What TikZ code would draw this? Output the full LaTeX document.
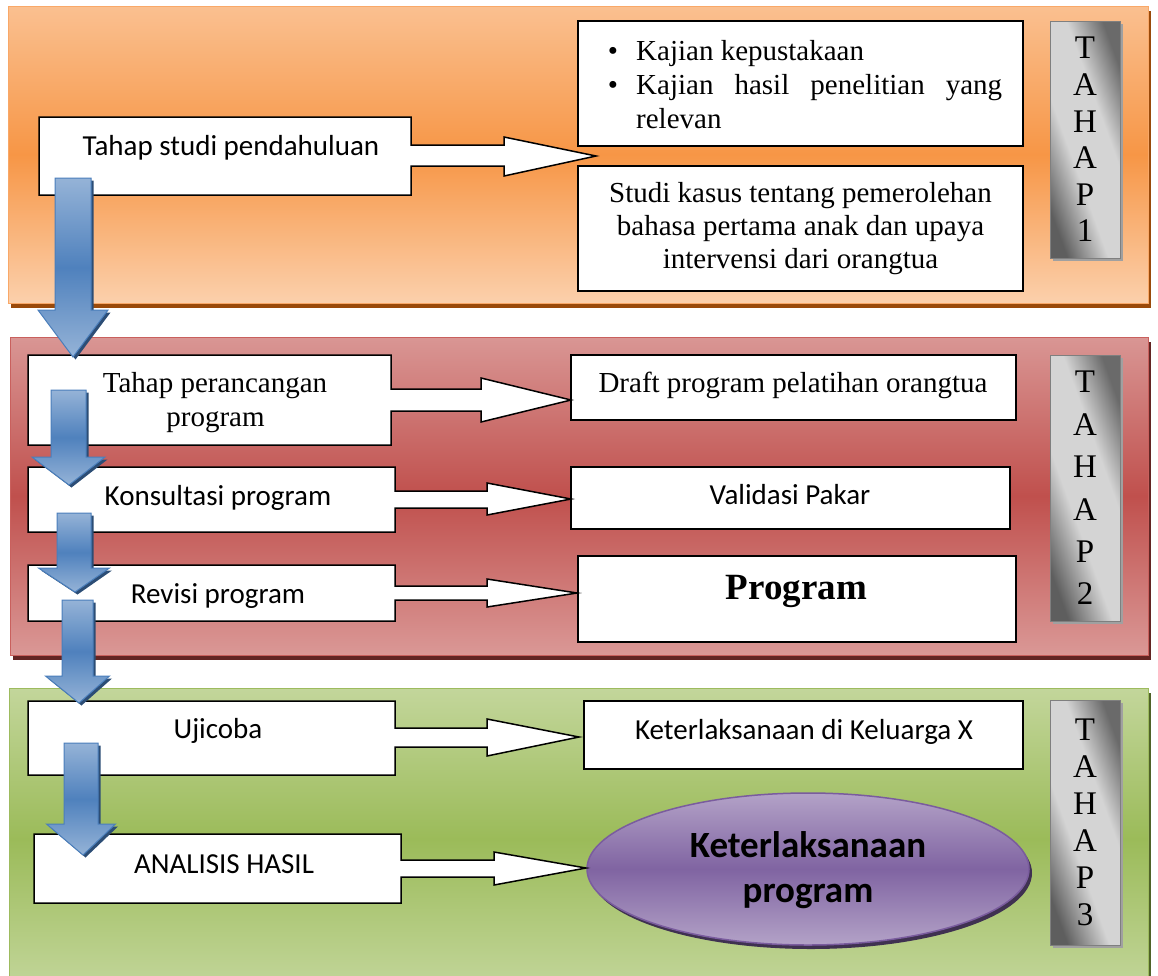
\documentclass[tikz,border=0pt]{standalone}
\usepackage{fontspec}
\setmainfont{Liberation Serif}
\newfontfamily\calibri{Carlito}
\usetikzlibrary{calc,shapes.geometric,shadows}

\definecolor{orTop}{HTML}{FAC090}
\definecolor{orMid}{HTML}{F79646}
\definecolor{orBot}{HTML}{FBD0AC}
\definecolor{orShadow}{HTML}{9A4A0A}
\definecolor{orEdge}{HTML}{F9A868}
\definecolor{rdTop}{HTML}{D99694}
\definecolor{rdMid}{HTML}{C0504D}
\definecolor{rdBot}{HTML}{DA9896}
\definecolor{rdShadow}{HTML}{632523}
\definecolor{rdEdge}{HTML}{C9605D}
\definecolor{grTop}{HTML}{C3D69B}
\definecolor{grMid}{HTML}{9BBB59}
\definecolor{grBot}{HTML}{C3D69B}
\definecolor{grShadow}{HTML}{4F6228}
\definecolor{grEdge}{HTML}{9DBB5E}
\definecolor{blTop}{HTML}{95B3D7}
\definecolor{blMid}{HTML}{4F81BD}
\definecolor{blBot}{HTML}{95B3D7}
\definecolor{blEdge}{HTML}{4A7EBB}
\definecolor{blShadow}{HTML}{2C4D75}
\definecolor{puTop}{HTML}{B3A2C7}
\definecolor{puMid}{HTML}{8064A2}
\definecolor{puEdge}{HTML}{7A5C9E}
\definecolor{puShadow}{HTML}{3F3151}
\definecolor{gyDark}{HTML}{5E5E5E}
\definecolor{gyLight}{HTML}{D4D4D4}
\definecolor{gyDarkR}{HTML}{6A6A6A}
\definecolor{gyEdge}{HTML}{7F7F7F}
\definecolor{gyShadow}{HTML}{A0A0A0}

\pgfdeclarehorizontalshading{tahapsh}{100bp}{color(0bp)=(gyDark); color(25bp)=(gyDark); color(42bp)=(gyLight); color(60bp)=(gyLight); color(75bp)=(gyDarkR); color(100bp)=(gyDarkR)}

\newcommand{\fserif}{\fontsize{29}{34}\selectfont}
\newcommand{\fcal}{\calibri\fontsize{29}{34}\selectfont}

\newcommand{\blockarrow}[5]{%
  \path[bluearrow] let \p1=(#1), \p2=(#2) in
    (\x1-#3pt,\y1) -- (\x1+#3pt,\y1) -- (\x1+#3pt,\y2+#5pt) -- (\x1+#4pt,\y2+#5pt)
    -- (\x2,\y2) -- (\x1-#4pt,\y2+#5pt) -- (\x1-#3pt,\y2+#5pt) -- cycle;
}

\begin{document}
\begin{tikzpicture}[x=1pt,y=-1pt,
  rbox/.style={draw=black, fill=white, line width=1.5pt, inner sep=0pt},
  callout/.style={draw=black, fill=white, line width=1.5pt, line join=miter},
  txt/.style={inner sep=0pt, anchor=base},
  tahap/.style={draw=gyEdge, line width=1pt, shade, shading=tahapsh, shading angle=20,
    inner sep=0pt, align=center,
    drop shadow={shadow xshift=3pt, shadow yshift=-3pt, fill=gyShadow, opacity=1}},
  bluearrow/.style={draw=blEdge, line width=1pt, top color=blTop, bottom color=blBot, middle color=blMid,
    line join=miter,
    drop shadow={shadow xshift=2.5pt, shadow yshift=-2.5pt, fill=blShadow, opacity=1}}
]
\useasboundingbox (0,0) rectangle (1158,975);
\fill[white] (0,0) rectangle (1158,975);

% panels
\path[draw=orEdge, line width=1pt, top color=orTop, bottom color=orBot, middle color=orMid,
  drop shadow={shadow xshift=3pt, shadow yshift=-5pt, fill=orShadow, opacity=1}]
  (8,6) rectangle (1148,303);
\path[draw=rdEdge, line width=1pt, top color=rdTop, bottom color=rdBot, middle color=rdMid,
  drop shadow={shadow xshift=3pt, shadow yshift=-5pt, fill=rdShadow, opacity=1}]
  (10,337) rectangle (1148,655);
\path[draw=grEdge, line width=1pt, top color=grTop, bottom color=grBot, middle color=grMid,
  drop shadow={shadow xshift=3pt, shadow yshift=-5pt, fill=grShadow, opacity=1}]
  (9,688) rectangle (1148,990);

% right boxes
\node[rbox, minimum width=445pt, minimum height=125pt] (kaj) at (800.5,83.5) {};
\node[rbox, minimum width=445pt, minimum height=125pt] (stu) at (800.5,228.5) {};
\node[rbox, minimum width=445pt, minimum height=65pt] (dra) at (793.5,387.5) {};
\node[rbox, minimum width=439pt, minimum height=62pt] (val) at (790.5,498) {};
\node[rbox, minimum width=438pt, minimum height=86pt] (prg) at (797,599) {};
\node[rbox, minimum width=439pt, minimum height=68pt] (kel) at (803.5,735) {};
\node[ellipse, minimum width=442pt, minimum height=152pt, inner sep=0pt, draw=puEdge, line width=1.5pt,
  top color=puTop, bottom color=puTop, middle color=puMid,
  drop shadow={shadow xshift=3pt, shadow yshift=-4pt, fill=puShadow, opacity=1}] (ell) at (808,869) {};

% TAHAP boxes
\node[tahap, minimum width=70pt, minimum height=237pt, font=\fontsize{33}{36.6}\selectfont] (th1) at (1085,139.5) {T\\A\\H\\A\\P\\1};
\node[tahap, minimum width=70pt, minimum height=266pt, font=\fontsize{33}{42.4}\selectfont] (th2) at (1085,488) {T\\A\\H\\A\\P\\2};
\node[tahap, minimum width=70pt, minimum height=245pt, font=\fontsize{33}{37}\selectfont] (th3) at (1085,822.5) {T\\A\\H\\A\\P\\3};

% callouts (box with right block arrow)
\path[callout] (39,117) -- (411,117) -- (411,145) -- (504,145) -- (504,137) -- (596,156) -- (504,176) -- (504,166) -- (411,166) -- (411,195) -- (39,195) -- cycle;
\path[callout] (28,355) -- (391,355) -- (391,389) -- (481,389) -- (481,378) -- (571,400) -- (481,422) -- (481,411) -- (391,411) -- (391,445) -- (28,445) -- cycle;
\path[callout] (28,467) -- (395,467) -- (395,491) -- (487,491) -- (487,483) -- (571,499) -- (487,515) -- (487,508) -- (395,508) -- (395,532) -- (28,532) -- cycle;
\path[callout] (28,565) -- (395,565) -- (395,586) -- (487,586) -- (487,579) -- (577,593) -- (487,607) -- (487,600) -- (395,600) -- (395,621) -- (28,621) -- cycle;
\path[callout] (28,701) -- (395,701) -- (395,728) -- (487,728) -- (487,719) -- (579,737) -- (487,756) -- (487,747) -- (395,747) -- (395,775) -- (28,775) -- cycle;
\path[callout] (34,834) -- (401,834) -- (401,860) -- (494,860) -- (494,852) -- (586,868) -- (494,885) -- (494,877) -- (401,877) -- (401,903) -- (34,903) -- cycle;

% callout texts
\node[txt, font=\fcal] (t1) at (231,155) {Tahap studi pendahuluan};
\node[txt, font=\fserif] (t2a) at (215,392) {Tahap perancangan};
\node[txt, font=\fserif] (t2b) at (215.5,426) {program};
\node[txt, font=\fcal] (t3) at (218,505) {Konsultasi program};
\node[txt, font=\fcal] (t4) at (218,603) {Revisi program};
\node[txt, font=\fcal] (t5) at (218,738) {Ujicoba};
\node[txt, font=\fcal] (t6) at (224,873) {ANALISIS HASIL};

% right texts
\node[txt, font=\fserif] (kb1) at (613,60) {\textbullet};
\node[txt, anchor=base west, font=\fserif] (kl1) at (636,60) {Kajian kepustakaan};
\node[txt, font=\fserif] (kb2) at (613,94) {\textbullet};
\node[txt, anchor=base west, font=\fserif] (kl2) at (636,94) {\makebox[366pt][s]{Kajian hasil penelitian yang}};
\node[txt, anchor=base west, font=\fserif] (kl3) at (636,128) {relevan};
\node[txt, font=\fserif] (s1) at (800.5,202) {Studi kasus tentang pemerolehan};
\node[txt, font=\fserif] (s2) at (800.5,235) {bahasa pertama anak dan upaya};
\node[txt, font=\fserif] (s3) at (800.5,268) {intervensi dari orangtua};
\node[txt, font=\fserif] (dt) at (793,392) {Draft program pelatihan orangtua};
\node[txt, font=\fcal] (vt) at (790,504) {Validasi Pakar};
\node[txt, font=\fontsize{37}{44}\selectfont\bfseries] (pt) at (796.5,599) {Program};
\node[txt, font=\fcal] (kt) at (804,739) {Keterlaksanaan di Keluarga X};
\node[txt, font=\calibri\bfseries\fontsize{37}{45}\selectfont] (e1) at (808,857) {Keterlaksanaan};
\node[txt, font=\calibri\bfseries\fontsize{37}{45}\selectfont] (e2) at (808,902) {program};

% blue down arrows
\coordinate (a1s) at (73,178); \coordinate (a1e) at (73,357);
\blockarrow{a1s}{a1e}{18}{35}{47}
\coordinate (a2s) at (68.5,390); \coordinate (a2e) at (69,485);
\blockarrow{a2s}{a2e}{17.5}{36.5}{28}
\coordinate (a3s) at (74,513); \coordinate (a3e) at (75,592);
\blockarrow{a3s}{a3e}{17}{35.5}{24}
\coordinate (a4s) at (77.5,600); \coordinate (a4e) at (79,703);
\blockarrow{a4s}{a4e}{15.5}{32}{27}
\coordinate (a5s) at (81,743); \coordinate (a5e) at (83,855);
\blockarrow{a5s}{a5e}{17}{34.5}{31}
\end{tikzpicture}
\end{document}
